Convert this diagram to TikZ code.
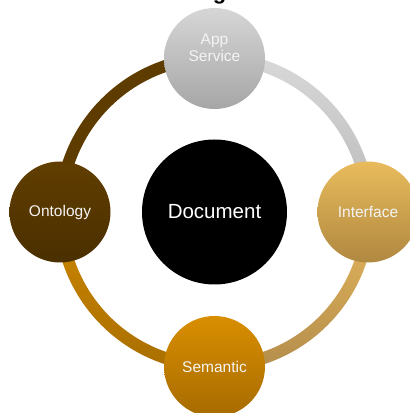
\documentclass[tikz,border=0pt]{standalone}
\usepackage{fontspec}
\setmainfont{Liberation Sans}
\usetikzlibrary{calc}
\definecolor{grayT}{HTML}{D9D9D9}
\definecolor{grayB}{HTML}{B9B9B9}
\definecolor{appT}{HTML}{D6D6D6}
\definecolor{appB}{HTML}{A6A6A6}
\definecolor{intT}{HTML}{E8BB5C}
\definecolor{intB}{HTML}{B08840}
\definecolor{goldT}{HTML}{E6B85C}
\definecolor{goldB}{HTML}{B38C4C}
\definecolor{semT}{HTML}{D98E00}
\definecolor{semB}{HTML}{A66B00}
\definecolor{oraT}{HTML}{D08800}
\definecolor{oraB}{HTML}{A86E00}
\definecolor{ontT}{HTML}{613E00}
\definecolor{ontB}{HTML}{4A2F00}
\definecolor{brownArc}{HTML}{5E3C00}
\definecolor{txtW}{HTML}{F4F4F4}
\newcommand\ringpath[2]{([shift={(C)}]#1:160) arc[start angle=#1,end angle=#2,radius=160] -- ([shift={(C)}]#2:148) arc[start angle=#2,end angle=#1,radius=148] -- cycle}
\begin{document}
\begin{tikzpicture}[x=1pt,y=1pt,
  sat/.style={circle,minimum size=101pt,inner sep=0pt,draw=none},
  stxt/.style={text=txtW,font=\fontsize{15.5}{17}\selectfont,inner sep=0pt,align=center}]
\useasboundingbox (0,0) rectangle (410,413);
\coordinate (C) at (214.5,201);
% title fragment
\node[font=\bfseries\fontsize{22}{24}\selectfont,anchor=base,inner sep=0pt] (title) at (219.5,413.6) {g};
% ring segments
\shade[top color=grayT,bottom color=grayB] \ringpath{0}{90};
\fill[brownArc] \ringpath{90}{180};
\shade[top color=oraT,bottom color=oraB] \ringpath{180}{270};
\shade[top color=goldT,bottom color=goldB] \ringpath{270}{360};
% centre
\node[circle,fill=black,minimum size=145pt,inner sep=0pt,text=white,font=\fontsize{20.5}{24}\selectfont] (doc) at (214.5,201) {Document};
% satellites
\node[sat,top color=appT,bottom color=appB] (app) at (214.5,354.5) {};
\node[stxt] (apptxt) at ([yshift=11]app.center) {App\\Service};
\node[sat,top color=intT,bottom color=intB,text=txtW,font=\fontsize{15.5}{17}\selectfont] (int) at (368,201) {Interface};
\node[sat,top color=semT,bottom color=semB,text=txtW,font=\fontsize{15.5}{17}\selectfont] (sem) at (214.5,46.5) {Semantic};
\node[sat,top color=ontT,bottom color=ontB,text=txtW,font=\fontsize{15.5}{17}\selectfont] (ont) at (60,201) {Ontology};
\end{tikzpicture}
\end{document}
